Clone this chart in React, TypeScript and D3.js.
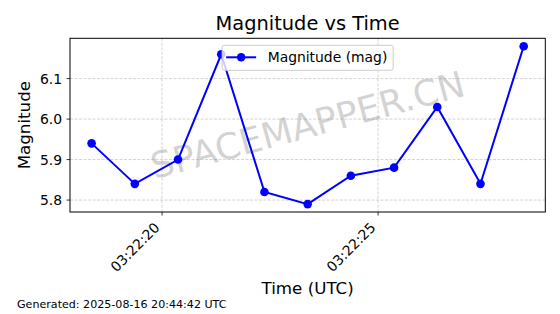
import React from "react";
import * as d3 from "d3";

const times: string[] = [
  "2025-08-16T03:22:18.37Z",
  "2025-08-16T03:22:19.37Z",
  "2025-08-16T03:22:20.37Z",
  "2025-08-16T03:22:21.37Z",
  "2025-08-16T03:22:22.37Z",
  "2025-08-16T03:22:23.37Z",
  "2025-08-16T03:22:24.37Z",
  "2025-08-16T03:22:25.37Z",
  "2025-08-16T03:22:26.37Z",
  "2025-08-16T03:22:27.37Z",
  "2025-08-16T03:22:28.37Z",
];
const magnitudes: number[] = [5.94, 5.84, 5.9, 6.16, 5.82, 5.79, 5.86, 5.88, 6.03, 5.84, 6.18];
const yTicks: number[] = [5.8, 5.9, 6.0, 6.1];
const titleText = "Magnitude vs Time";
const xLabel = "Time (UTC)";
const yLabel = "Magnitude";
const legendLabel = "Magnitude (mag)";
const watermark = "SPACEMAPPER.CN";
const footer = "Generated: 2025-08-16 20:44:42 UTC";

const W = 560;
const H = 314;
const L = 70;
const R = 545.3;
const T = 38.3;
const B = 212;
const FONT = "'DejaVu Sans', sans-serif";

export default function App() {
  const dates = times.map((t) => new Date(t));
  const data = dates.map((d, i) => ({ d, v: magnitudes[i] }));
  const [x0, x1] = d3.extent(dates) as [Date, Date];
  const xs = x1.getTime() - x0.getTime();
  const x = d3
    .scaleUtc()
    .domain([new Date(x0.getTime() - xs * 0.05), new Date(x1.getTime() + xs * 0.05)])
    .range([L, R]);
  const [y0, y1] = d3.extent(magnitudes) as [number, number];
  const ys = y1 - y0;
  const y = d3.scaleLinear().domain([y0 - ys * 0.05, y1 + ys * 0.05]).range([B, T]);
  const xTicks = x.ticks(d3.utcSecond.every(5)!);
  const fmt = d3.utcFormat("%H:%M:%S");
  const line = d3
    .line<{ d: Date; v: number }>()
    .x((p) => x(p.d))
    .y((p) => y(p.v));

  const cx = (L + R) / 2;
  const cy = (T + B) / 2;
  const legW = 171;
  const legX = cx - legW / 2;
  const legY = 45.3;
  const legH = 25;

  return (
    <svg width={W} height={H} style={{ display: "block", position: "absolute", left: 0, top: 0 }} fontFamily={FONT}>
      <rect x={0} y={0} width={W} height={H} fill="#ffffff" />
      {/* grid */}
      {xTicks.map((t, i) => (
        <line key={"gx" + i} x1={x(t)} x2={x(t)} y1={T} y2={B} stroke="#b0b0b0" strokeOpacity={0.7} strokeWidth={0.8} strokeDasharray="3,1.5" />
      ))}
      {yTicks.map((t, i) => (
        <line key={"gy" + i} x1={L} x2={R} y1={y(t)} y2={y(t)} stroke="#b0b0b0" strokeOpacity={0.7} strokeWidth={0.8} strokeDasharray="3,1.5" />
      ))}
      {/* watermark */}
      <text
        x={cx}
        y={cy}
        transform={`rotate(-15, ${cx}, ${cy})`}
        textAnchor="middle"
        dominantBaseline="central"
        fontSize={36}
        fill="#808080"
        fillOpacity={0.35}
      >
        {watermark}
      </text>
      {/* line */}
      <path d={line(data) || ""} fill="none" stroke="#0000ff" strokeWidth={2} />
      {data.map((p, i) => (
        <circle key={"m" + i} cx={x(p.d)} cy={y(p.v)} r={4.3} fill="#0000ff" />
      ))}
      {/* axes frame */}
      <rect x={L} y={T} width={R - L} height={B - T} fill="none" stroke="#000" strokeWidth={1} />
      {/* y ticks */}
      {yTicks.map((t, i) => (
        <g key={"yt" + i}>
          <line x1={L - 3.5} x2={L} y1={y(t)} y2={y(t)} stroke="#000" strokeWidth={0.8} />
          <text x={L - 8} y={y(t)} textAnchor="end" dominantBaseline="central" fontSize={13.9} fill="#000">
            {t.toFixed(1)}
          </text>
        </g>
      ))}
      {/* x ticks */}
      {xTicks.map((t, i) => (
        <g key={"xt" + i}>
          <line x1={x(t)} x2={x(t)} y1={B} y2={B + 3.5} stroke="#000" strokeWidth={0.8} />
          <text
            transform={`translate(${x(t) - 5}, ${B + 13}) rotate(-45)`}
            textAnchor="end"
            dominantBaseline="central"
            fontSize={13.9}
            fill="#000"
          >
            {fmt(t)}
          </text>
        </g>
      ))}
      {/* legend */}
      <rect x={legX} y={legY} width={legW} height={legH} rx={2.5} fill="#fff" fillOpacity={0.8} stroke="#cccccc" strokeWidth={1} />
      <line x1={legX + 4} x2={legX + 34} y1={legY + 12} y2={legY + 12} stroke="#0000ff" strokeWidth={2} />
      <circle cx={legX + 19} cy={legY + 12} r={4.3} fill="#0000ff" />
      <text x={legX + 45.5} y={legY + 12} dominantBaseline="central" fontSize={13.9} fill="#000">
        {legendLabel}
      </text>
      {/* labels */}
      <text x={cx} y={30} textAnchor="middle" fontSize={19.4} fill="#000">
        {titleText}
      </text>
      <text x={cx} y={294} textAnchor="middle" fontSize={16.7} fill="#000">
        {xLabel}
      </text>
      <text transform={`translate(30, ${cy}) rotate(-90)`} textAnchor="middle" fontSize={16.7} fill="#000">
        {yLabel}
      </text>
      <text x={17} y={308} fontSize={11.1} fill="#000">
        {footer}
      </text>
    </svg>
  );
}
